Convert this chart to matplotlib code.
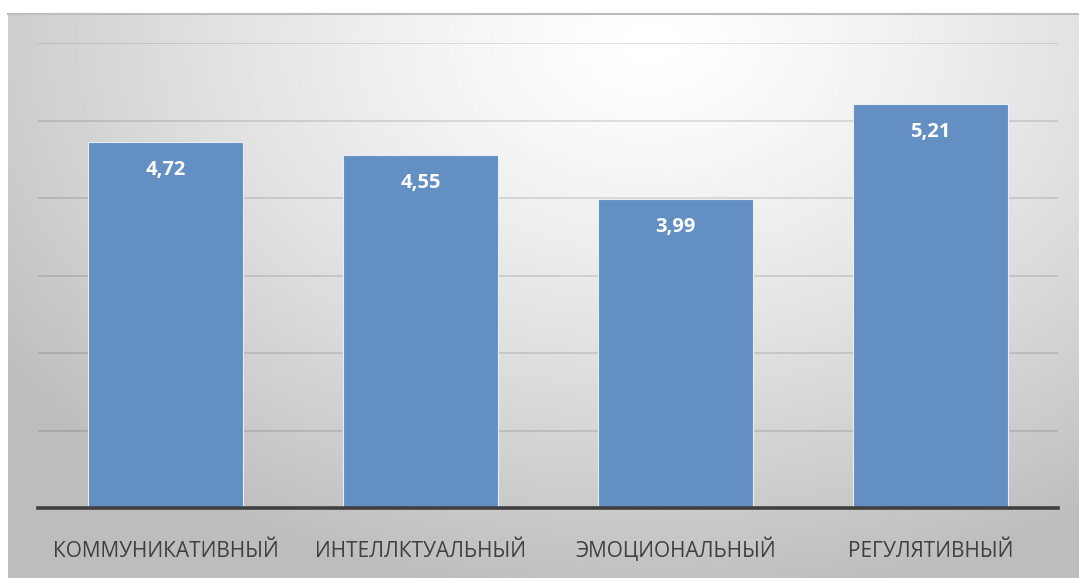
import numpy as np
import matplotlib.pyplot as plt

categories = ["КОММУНИКАТИВНЫЙ", "ИНТЕЛЛКТУАЛЬНЫЙ", "ЭМОЦИОНАЛЬНЫЙ", "РЕГУЛЯТИВНЫЙ"]
values = [4.72, 4.55, 3.99, 5.21]
labels = ["4,72", "4,55", "3,99", "5,21"]

plt.rcParams['font.family'] = ['Open Sans', 'DejaVu Sans']

W, H = 1079, 583
fig = plt.figure(figsize=(W / 100, H / 100), dpi=100)
fig.patch.set_facecolor('white')

# gradient background of the chart frame
bg = fig.add_axes([8 / W, 5 / H, 1 - 8 / W, (578 - 14) / H])
yy, xx = np.mgrid[0:1:300j, 0:1:600j]
dist = np.sqrt(((xx - 0.6) * 1.0) ** 2 + ((yy - 0.05) * 0.75) ** 2)
shade = 1.0 - 0.26 * np.clip(dist / 0.75, 0, 1) ** 1.3
bg.imshow(shade, cmap='gray', vmin=0, vmax=1, aspect='auto', extent=[0, 1, 0, 1],
          origin='upper', interpolation='bilinear')
bg.set_xlim(0, 1)
bg.set_ylim(0, 1)
bg.axis('off')
bg.plot([0, 1], [1, 1], color='#bdbdbd', lw=1.5, transform=bg.transAxes, clip_on=False)

ax = fig.add_axes([38 / W, (H - 508) / H, (1058 - 38) / W, (508 - 43) / H])
ax.patch.set_alpha(0)
x = np.arange(len(categories))
ax.bar(x, values, width=0.61, color='#638fc2', edgecolor='#e8eef6', linewidth=0.8, zorder=3)
ax.set_xlim(-0.5, 3.5)
ax.set_ylim(0, 6)
ax.set_yticks(np.arange(0, 7, 1))
ax.yaxis.grid(True, color='black', alpha=0.13, lw=1.2, zorder=0)
ax.tick_params(axis='y', left=False, labelleft=False)
ax.set_xticks(x)
ax.tick_params(axis='x', bottom=False, labelbottom=False)
for s in ['left', 'right', 'top']:
    ax.spines[s].set_visible(False)
ax.spines['bottom'].set_color('#404040')
ax.spines['bottom'].set_linewidth(2.6)
ax.spines['bottom'].set_zorder(4)

# category labels, aligned on baseline so the breve of Й doesn't shift them
for xi, cat in zip(x, categories):
    ax.annotate(cat, (xi, 0), xycoords=('data', 'axes fraction'), xytext=(0, -35.5),
                textcoords='offset points', ha='center', va='baseline',
                fontsize=15, color='#404040', annotation_clip=False)

for xi, v, lab in zip(x, values, labels):
    ax.annotate(lab, (xi, v), xytext=(0, -20), textcoords='offset points',
                ha='center', va='center', color='white', fontsize=14.5, fontweight='bold', zorder=5)

fig.savefig('out.png', dpi=100)
